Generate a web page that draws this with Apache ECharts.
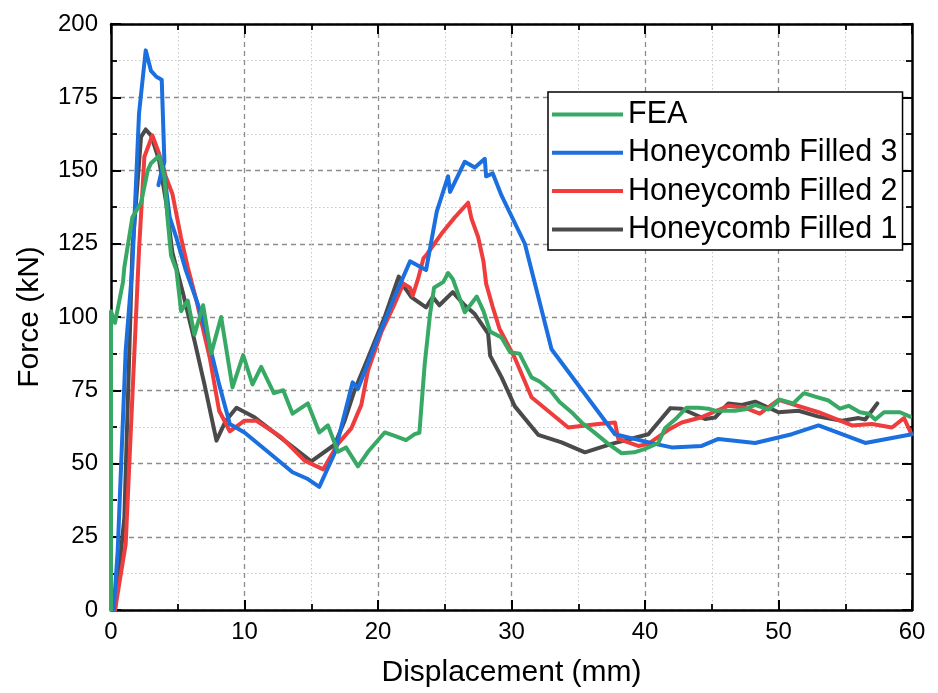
<!DOCTYPE html>
<html>
<head>
<meta charset="utf-8">
<script src="https://cdn.jsdelivr.net/npm/echarts@6/dist/echarts.min.js"></script>
<style>
html,body{margin:0;padding:0;background:#fff;}
#chart{width:938px;height:693px;}
</style>
</head>
<body>
<div id="chart"></div>
<script>
// ---- Data ----
var seriesNames = ['FEA', 'Honeycomb Filled 3', 'Honeycomb Filled 2', 'Honeycomb Filled 1'];
var xTicks = [0, 10, 20, 30, 40, 50, 60];
var yTicks = [0, 25, 50, 75, 100, 125, 150, 175, 200];

var feaX = [0,0,0.3,0.9,1.0,1.6,2.25,2.75,3.0,3.6,4.0,4.25,4.5,4.9,5.25,5.75,6.25,6.9,7.5,8.25,9.1,9.9,10.6,11.25,12.2,12.9,13.6,14.75,15.6,16.25,17.0,17.6,18.5,19.25,20.5,21.2,22.1,22.75,23.1,23.5,23.9,24.2,24.9,25.25,25.6,26.5,27.4,27.9,28.4,29.25,29.9,30.6,31.5,32.1,32.9,33.6,34.5,35.25,36.2,37.25,38.25,39.2,40.0,41.0,41.5,42.25,43.1,44.0,44.75,45.25,45.9,46.75,47.5,48.25,49.25,50.1,51.1,51.9,52.75,53.75,54.6,55.25,56.1,56.75,57.25,57.9,59.1,59.85];
var feaY = [0,102,98,112,117,134,139,150,152.5,155,148,133,121,116,102,105.6,94,104,87.5,100,76,87,77,83,74,75,67,70.5,60.6,63,54,55.5,49,54,60.6,59.5,58,60,60.5,84,101,110,112,115,113,101.6,107,102,95,93,88,87.5,79.4,78,75,71,67.5,64,60.6,56.7,53.5,53.8,55,57,62,65,69,69,68.7,68,68,68,68.5,70,68.4,71.8,70.5,74,72.8,71.5,68.7,69.7,67.5,67,65,67.5,67.5,66];

var hf3X = [0.2,0.5,1.1,1.6,2.1,2.6,3.0,3.4,3.8,4.0,3.55,3.9,4.4,4.9,5.6,6.5,7.25,8.1,8.9,10.0,11.75,13.6,14.75,15.6,16.75,18.1,18.5,20.0,21.25,22.4,23.6,24.4,25.25,25.4,26.5,27.25,28.0,28.1,28.6,29.25,31.0,33.0,37.75,40.75,42.0,44.25,45.5,48.25,51.0,53.0,56.5,60.0];
var hf3Y = [0,20,88.5,117,169.5,191,184,182,181,153,145,152,134,127,116,104.5,93,77,63.5,60.6,54,47,44.7,42,53.5,77.7,75.5,93,107,119,116,136,148,142.7,153,151,154,148,149,141.5,125,89,60,56.7,55.5,56,58.4,57,60,63,57,60];

var hf2X = [0.3,1.1,2.1,2.5,3.1,3.6,4.1,4.6,5.25,5.75,6.4,7.4,8.1,8.9,10.0,10.9,12.75,14.5,15.9,17.0,18.0,18.75,19.25,20.25,21.25,21.9,22.4,22.6,23.0,23.4,23.6,24.75,25.75,26.75,27.0,27.5,27.9,28.1,28.6,29.1,30.25,31.5,34.25,36.5,37.75,38.0,39.5,40.25,41.75,42.75,44.25,46.25,47.5,48.6,50.0,53.0,55.5,57.0,58.5,59.4,59.9];
var hf2Y = [0,22.5,123,154.7,162,155.8,148,142,127,117,105.6,86,68,61,64.6,64.6,59,51,48,56.7,62,70,81.7,94.8,104.5,111.4,110,107.3,113,120,121,128.4,134,139,133.6,127.3,119,111.4,103.3,96,86,72.6,62.3,63.5,64,58.4,56,56.7,61.5,64,65.8,69.7,69,67,71.7,67.5,63,63.5,62.3,65.5,60.6];

var hf1X = [0.3,1.0,1.6,2.25,2.6,3.0,3.6,4.1,4.6,5.4,6.25,7.0,7.9,8.6,9.4,10.75,13.0,15.0,16.75,17.5,18.25,19.25,20.5,21.55,22.0,22.5,23.6,24.1,24.6,25.6,26.5,27.25,28.25,28.4,29.25,30.25,32.0,33.75,35.5,37.5,40.25,41.9,42.75,44.5,45.25,46.25,47.25,48.25,50.0,51.5,53.0,54.75,56.0,56.5,57.4];
var hf1Y = [0,31.5,123,161.5,164,162,153.5,140,122,108,92,77,57.8,64.6,69,65.8,57.8,50.7,56.4,64.6,75,86,100,113.8,110,106.8,103.3,106.8,104,108.5,104,101,94.3,86.8,79.5,69.5,59.8,57.2,53.8,56.7,60,68.9,68.7,65.2,65.7,70.5,70,71.1,67.5,68,66,64.6,65.5,65,70.5];

function zip(xs, ys) { return xs.map(function (x, i) { return [x, ys[i]]; }); }

var FONT = '"Liberation Sans", Arial, sans-serif';
var colors = { 'FEA': '#38a965', 'Honeycomb Filled 3': '#1b6fde', 'Honeycomb Filled 2': '#ef3d3d', 'Honeycomb Filled 1': '#4a4a4a' };

function mkSeries(name, xs, ys) {
  return {
    name: name, type: 'line', symbol: 'none', smooth: false,
    data: zip(xs, ys),
    lineStyle: { width: 4, color: colors[name], join: 'round', cap: 'round' },
    itemStyle: { color: colors[name] },
    emphasis: { disabled: true },
    clip: true
  };
}

var majorSplit = { show: true, lineStyle: { color: '#8c8c8c', width: 1.3, type: [5, 4] } };
var minorSplit = { show: true, lineStyle: { color: '#c8c8c8', width: 1, type: [1.5, 2.5] } };

function axisBase(extra) {
  var base = {
    axisLine: { show: true, onZero: false, lineStyle: { color: '#000', width: 2.5 } },
    axisTick: { show: true, inside: true, length: 10, lineStyle: { color: '#000', width: 2 } },
    minorTick: { show: true, splitNumber: 2, length: 6, lineStyle: { color: '#000', width: 1.8 } }
  };
  for (var k in extra) base[k] = extra[k];
  return base;
}

var chart = echarts.init(document.getElementById('chart'), null, { renderer: 'canvas' });
chart.setOption({
  animation: false,
  backgroundColor: '#fff',
  grid: { left: 111, right: 26, top: 24, bottom: 82, containLabel: false },
  legend: {
    orient: 'vertical', left: 548, top: 92,
    data: seriesNames,
    itemWidth: 71, itemHeight: 14, itemGap: 7.3,
    padding: [7, 5, 5, 4],
    borderColor: '#000', borderWidth: 1.5, backgroundColor: '#fff',
    textStyle: { fontFamily: FONT, fontSize: 30.5, color: '#000', lineHeight: 30 },
    icon: 'path://M0,0 L71,0 L71,4 L0,4 Z'
  },
  xAxis: [
    axisBase({
      type: 'value', min: 0, max: 60, interval: 10, position: 'bottom',
      name: 'Displacement (mm)', nameLocation: 'middle', nameGap: 48,
      nameTextStyle: { fontFamily: FONT, fontSize: 30, color: '#000' },
      axisLabel: { show: true, margin: 10, fontFamily: FONT, fontSize: 24, color: '#000',
        formatter: function (v) { return xTicks.indexOf(v) >= 0 ? String(v) : ''; } },
      splitLine: majorSplit, minorSplitLine: minorSplit
    }),
    axisBase({
      type: 'value', min: 0, max: 60, interval: 10, position: 'top',
      axisLabel: { show: false }, splitLine: { show: false }
    })
  ],
  yAxis: [
    axisBase({
      type: 'value', min: 0, max: 200, interval: 25, position: 'left',
      name: 'Force (kN)', nameLocation: 'middle', nameGap: 66,
      nameTextStyle: { fontFamily: FONT, fontSize: 30, color: '#000' },
      axisLabel: { show: true, margin: 13, fontFamily: FONT, fontSize: 24, color: '#000',
        formatter: function (v) { return yTicks.indexOf(v) >= 0 ? String(v) : ''; } },
      splitLine: majorSplit, minorSplitLine: minorSplit
    }),
    axisBase({
      type: 'value', min: 0, max: 200, interval: 25, position: 'right',
      axisLabel: { show: false }, splitLine: { show: false }
    })
  ],
  series: [
    mkSeries('Honeycomb Filled 1', hf1X, hf1Y),
    mkSeries('Honeycomb Filled 2', hf2X, hf2Y),
    mkSeries('Honeycomb Filled 3', hf3X, hf3Y),
    mkSeries('FEA', feaX, feaY)
  ]
});
</script>
</body>
</html>
